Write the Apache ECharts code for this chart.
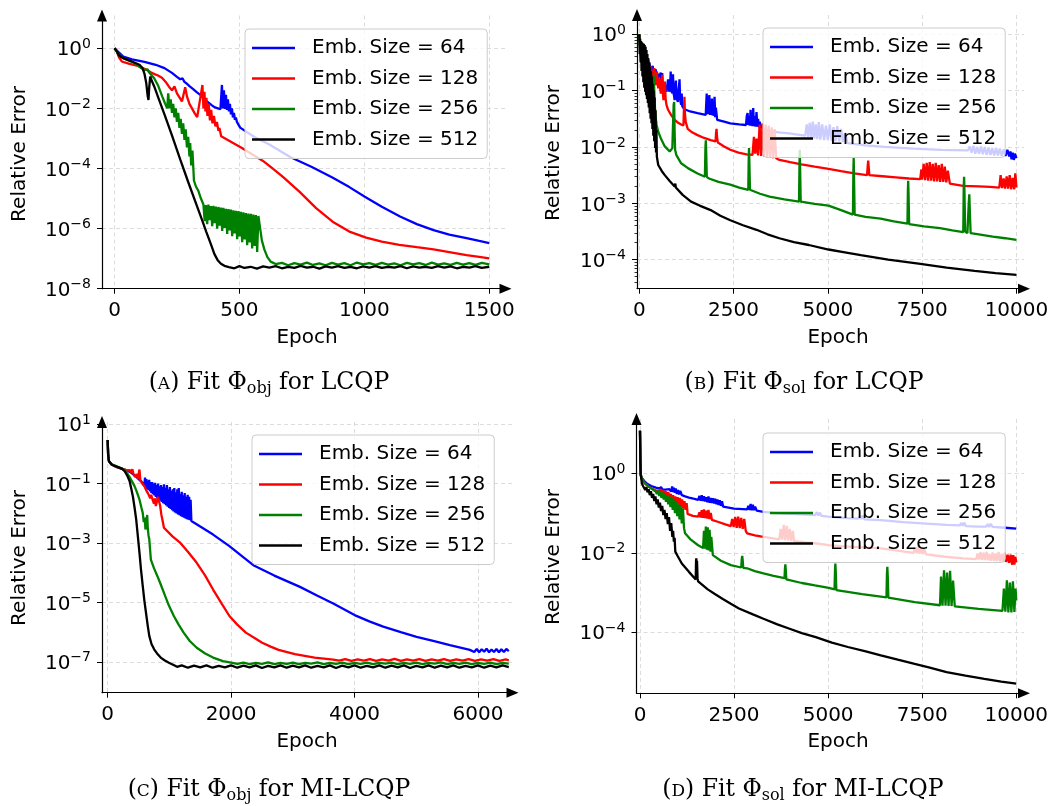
<!DOCTYPE html>
<html><head><meta charset="utf-8">
<script src="https://cdn.jsdelivr.net/npm/echarts@6/dist/echarts.min.js"></script>
<style>html,body{margin:0;padding:0;background:#fff}#c{width:1062px;height:806px}</style>
</head><body><div id="c"></div>
<script>
// ---------------- DATA (epoch, log10 of relative error) ----------------
const NAMES = ['Emb. Size = 64', 'Emb. Size = 128', 'Emb. Size = 256', 'Emb. Size = 512'];
const COLORS = ['#0000ff', '#ff0000', '#008000', '#000000'];

const TICKS_X_A = [0, 500, 1000, 1500];
const TICKS_X_B = [0, 2500, 5000, 7500, 10000];
const TICKS_X_C = [0, 2000, 4000, 6000];
const TICKS_X_D = [0, 2500, 5000, 7500, 10000];
const TICKS_Y_A = [1e-8, 1e-6, 1e-4, 1e-2, 1];
const TICKS_Y_B = [1e-4, 1e-3, 1e-2, 1e-1, 1];
const TICKS_Y_C = [1e-7, 1e-5, 1e-3, 1e-1, 10];
const TICKS_Y_D = [1e-4, 1e-2, 1];
const MINOR_Y_B = [4e-5,5e-5,6e-5,7e-5,8e-5,9e-5,2e-4,3e-4,4e-4,5e-4,6e-4,7e-4,8e-4,9e-4,2e-3,3e-3,4e-3,5e-3,6e-3,7e-3,8e-3,9e-3,2e-2,3e-2,4e-2,5e-2,6e-2,7e-2,8e-2,9e-2,0.2,0.3,0.4,0.5,0.6,0.7,0.8,0.9,2];

// Panel A : Fit Phi_obj for LCQP
const A64 = [[0,0],[8,-0.03],[18,-0.14],[35,-0.28],[70,-0.37],[120,-0.45],[165,-0.55],[200,-0.66],[230,-0.82],[250,-0.95],[263,-1.03],[272,-1.0],[280,-1.12],[290,-1.18],[300,-1.26],[308,-1.22],[315,-1.36],[330,-1.47],[345,-1.56],[360,-1.7],[375,-1.8],[390,-1.9],[402,-1.97],[414,-2.0],[424,-2.03],[430,-1.22],[434,-2.0],[438,-1.4],[442,-2.02],[446,-1.55],[450,-2.05],[454,-1.7],[458,-2.1],[462,-1.85],[466,-2.2],[470,-2.0],[474,-2.3],[478,-2.15],[482,-2.38],[486,-2.3],[490,-2.45],[496,-2.5],[503,-2.64],[560,-2.95],[620,-3.2],[703,-3.62],[790,-3.95],[872,-4.3],[940,-4.62],[1002,-4.94],[1070,-5.27],[1143,-5.6],[1210,-5.85],[1277,-6.05],[1340,-6.2],[1409,-6.32],[1460,-6.41],[1500,-6.48]];
const A128 = [[0,0],[8,-0.08],[18,-0.3],[29,-0.44],[60,-0.52],[94,-0.59],[120,-0.68],[133,-0.74],[145,-0.8],[152,-0.74],[160,-0.86],[166,-0.8],[172,-0.9],[180,-0.84],[190,-0.98],[205,-1.12],[218,-1.28],[230,-1.4],[240,-1.27],[250,-1.5],[262,-1.66],[270,-1.77],[283,-1.3],[290,-1.6],[300,-1.85],[310,-2.0],[320,-2.15],[331,-2.29],[352,-1.22],[356,-2.0],[360,-1.45],[364,-2.1],[368,-1.65],[372,-2.25],[377,-1.85],[382,-2.4],[387,-2.05],[392,-2.5],[398,-2.25],[404,-2.6],[410,-2.45],[416,-2.75],[420,-2.65],[427,-2.93],[510,-3.32],[593,-3.74],[630,-3.98],[673,-4.27],[740,-4.77],[807,-5.32],[873,-5.77],[940,-6.1],[1007,-6.3],[1070,-6.43],[1140,-6.54],[1210,-6.62],[1277,-6.69],[1340,-6.78],[1409,-6.88],[1460,-6.94],[1500,-6.99]];
const A256 = [[0,0],[8,-0.05],[18,-0.22],[35,-0.33],[81,-0.5],[107,-0.66],[120,-0.72],[126,-0.77],[132,-0.7],[138,-0.8],[159,-1.0],[175,-1.25],[191,-1.6],[203,-1.85],[211,-2.0],[215,-1.5],[220,-2.0],[225,-1.7],[230,-2.15],[235,-1.85],[240,-2.3],[245,-2.0],[250,-2.45],[255,-2.15],[260,-2.65],[265,-2.35],[270,-2.85],[275,-2.5],[280,-3.05],[285,-2.7],[290,-3.3],[295,-2.95],[300,-3.6],[303,-3.15],[307,-3.9],[312,-3.4],[318,-4.4],[326,-4.6],[336,-4.75],[346,-5.0],[356,-5.2],[361,-5.75],[366,-5.22],[371,-5.85],[376,-5.2],[381,-5.72],[386,-5.25],[391,-5.92],[396,-5.24],[401,-5.82],[406,-5.27],[411,-6.0],[416,-5.28],[421,-5.9],[426,-5.3],[431,-6.08],[436,-5.31],[441,-5.98],[446,-5.34],[451,-6.18],[456,-5.35],[461,-6.06],[466,-5.37],[471,-6.25],[476,-5.39],[481,-6.16],[486,-5.41],[491,-6.35],[496,-5.42],[501,-6.26],[506,-5.44],[511,-6.45],[516,-5.46],[521,-6.36],[526,-5.48],[531,-6.55],[536,-5.5],[541,-6.46],[546,-5.51],[551,-6.66],[556,-5.53],[561,-6.58],[566,-5.55],[571,-6.78],[576,-5.58],[583,-6.0],[590,-6.4],[600,-6.7],[612,-6.95],[625,-7.1],[645,-7.18],[670,-7.14],[695,-7.22],[720,-7.15],[745,-7.2],[770,-7.13],[795,-7.21],[820,-7.16],[845,-7.22],[870,-7.14],[895,-7.2],[920,-7.15],[945,-7.22],[970,-7.13],[995,-7.19],[1020,-7.15],[1045,-7.21],[1070,-7.14],[1095,-7.2],[1120,-7.16],[1145,-7.22],[1170,-7.14],[1195,-7.19],[1220,-7.15],[1245,-7.21],[1270,-7.13],[1295,-7.2],[1320,-7.16],[1345,-7.21],[1370,-7.14],[1395,-7.2],[1420,-7.15],[1445,-7.21],[1470,-7.14],[1500,-7.19]];
const A512 = [[0,0],[8,-0.08],[18,-0.24],[35,-0.33],[70,-0.44],[100,-0.55],[112,-0.66],[120,-0.85],[127,-1.15],[133,-1.6],[136,-1.72],[139,-1.3],[143,-0.94],[150,-1.1],[159,-1.27],[180,-1.75],[200,-2.2],[230,-2.9],[263,-3.7],[295,-4.45],[328,-5.2],[350,-5.7],[367,-6.1],[385,-6.5],[400,-6.85],[413,-7.05],[426,-7.17],[440,-7.24],[458,-7.28],[480,-7.32],[500,-7.25],[520,-7.31],[545,-7.27],[570,-7.33],[595,-7.26],[620,-7.3],[645,-7.25],[670,-7.32],[695,-7.27],[720,-7.31],[745,-7.24],[770,-7.3],[795,-7.27],[820,-7.33],[845,-7.26],[870,-7.3],[895,-7.25],[920,-7.31],[945,-7.27],[970,-7.32],[995,-7.26],[1020,-7.3],[1045,-7.25],[1070,-7.31],[1095,-7.27],[1120,-7.3],[1145,-7.25],[1170,-7.32],[1195,-7.26],[1220,-7.3],[1245,-7.27],[1270,-7.31],[1295,-7.25],[1320,-7.3],[1345,-7.26],[1370,-7.32],[1395,-7.27],[1420,-7.3],[1445,-7.25],[1470,-7.31],[1500,-7.27]];

// Panel B : Fit Phi_sol for LCQP
const B64 = [[0,0],[30,-0.2],[52,-0.27],[80,-0.35],[113,-0.4],[135,-0.5],[156,-0.54],[178,-0.45],[200,-0.52],[222,-0.6],[243,-0.63],[265,-0.5],[286,-0.58],[308,-0.64],[330,-0.66],[356,-0.56],[378,-0.68],[399,-0.72],[430,-0.62],[460,-0.62],[480,-0.75],[503,-0.81],[525,-0.7],[547,-0.75],[570,-0.68],[590,-0.86],[608,-0.69],[620,-0.88],[634,-0.93],[655,-0.85],[677,-0.9],[700,-0.98],[720,-1.02],[745,-0.9],[765,-0.8],[781,-0.78],[795,-1.02],[807,-1.05],[820,-0.9],[833,-0.66],[848,-0.95],[868,-1.05],[880,-0.85],[894,-0.71],[910,-1.05],[925,-1.1],[938,-1.17],[955,-0.95],[970,-0.82],[985,-1.05],[1000,-1.15],[1024,-1.2],[1040,-1.0],[1055,-0.9],[1068,-0.8],[1080,-1.1],[1095,-1.2],[1111,-1.25],[1125,-1.05],[1140,-1.28],[1155,-1.31],[1198,-1.33],[1350,-1.37],[1545,-1.4],[1762,-1.43],[1788,-1.05],[1805,-1.42],[1823,-1.1],[1840,-1.42],[1858,-1.08],[1875,-1.43],[1892,-1.2],[1910,-1.43],[1927,-1.14],[1945,-1.44],[1962,-1.2],[1980,-1.45],[1996,-1.11],[2013,-1.47],[2031,-1.3],[2066,-1.52],[2250,-1.55],[2413,-1.58],[2650,-1.6],[2830,-1.61],[2850,-1.45],[2873,-1.4],[2890,-1.61],[2908,-1.45],[2930,-1.62],[2951,-1.34],[2970,-1.62],[2986,-1.5],[3003,-1.63],[3021,-1.31],[3040,-1.63],[3064,-1.45],[3085,-1.64],[3108,-1.38],[3130,-1.64],[3151,-1.5],[3170,-1.65],[3194,-1.55],[3215,-1.66],[3238,-1.6],[3260,-1.67],[3455,-1.72],[3700,-1.74],[3976,-1.76],[4200,-1.78],[4400,-1.8],[4440,-1.6],[4480,-1.82],[4520,-1.57],[4560,-1.83],[4600,-1.55],[4640,-1.85],[4680,-1.6],[4720,-1.86],[4760,-1.56],[4800,-1.87],[4850,-1.6],[4900,-1.88],[4950,-1.62],[5000,-1.88],[5050,-1.6],[5100,-1.89],[5150,-1.65],[5200,-1.9],[5250,-1.63],[5300,-1.9],[5350,-1.68],[5400,-1.91],[5450,-1.75],[5524,-1.93],[6000,-1.97],[6500,-2.0],[7273,-2.03],[8000,-2.05],[8715,-2.06],[8760,-1.99],[8810,-2.1],[8860,-1.98],[8910,-2.12],[8960,-2.0],[9010,-2.12],[9060,-1.99],[9110,-2.13],[9160,-2.0],[9210,-2.14],[9260,-2.01],[9310,-2.14],[9360,-2.02],[9410,-2.15],[9460,-2.02],[9510,-2.15],[9560,-2.03],[9610,-2.16],[9660,-2.04],[9710,-2.16],[9760,-2.05],[9808,-2.17],[9840,-2.08],[9870,-2.22],[9900,-2.1],[9930,-2.23],[9960,-2.12],[10000,-2.2]];
const B128 = [[0,0],[15,-0.12],[30,-0.31],[50,-0.45],[75,-0.5],[100,-0.55],[156,-0.49],[178,-0.58],[200,-0.63],[222,-0.55],[243,-0.46],[265,-0.6],[286,-0.72],[300,-0.62],[312,-0.57],[335,-0.75],[356,-0.81],[378,-0.68],[399,-0.6],[420,-0.82],[434,-0.9],[452,-0.75],[469,-0.66],[486,-0.88],[503,-0.96],[520,-0.85],[538,-0.78],[556,-0.98],[573,-1.05],[590,-0.9],[608,-0.72],[625,-1.05],[642,-1.17],[660,-1.0],[677,-0.84],[700,-1.15],[720,-1.25],[764,-1.34],[850,-1.44],[938,-1.52],[1030,-1.57],[1111,-1.6],[1172,-1.62],[1185,-1.3],[1198,-1.11],[1210,-1.4],[1233,-1.56],[1285,-1.68],[1400,-1.74],[1545,-1.79],[1720,-1.84],[1892,-1.88],[2023,-1.9],[2036,-1.75],[2049,-1.68],[2062,-1.82],[2083,-1.92],[2250,-1.99],[2413,-2.05],[2630,-2.1],[2847,-2.13],[3003,-2.14],[3040,-1.82],[3075,-2.12],[3110,-1.85],[3150,-2.15],[3190,-1.6],[3230,-2.16],[3270,-1.58],[3310,-2.17],[3350,-1.6],[3390,-2.18],[3430,-1.62],[3470,-2.18],[3510,-1.65],[3550,-2.2],[3590,-1.68],[3630,-2.2],[3715,-2.23],[4000,-2.27],[4300,-2.31],[4650,-2.35],[5017,-2.39],[5350,-2.43],[5700,-2.47],[6040,-2.5],[6058,-2.32],[6070,-2.24],[6082,-2.35],[6100,-2.5],[6450,-2.52],[6800,-2.54],[7150,-2.56],[7448,-2.57],[7480,-2.4],[7500,-2.58],[7540,-2.3],[7580,-2.59],[7620,-2.28],[7660,-2.6],[7700,-2.27],[7740,-2.6],[7780,-2.3],[7820,-2.61],[7860,-2.28],[7900,-2.61],[7940,-2.32],[7980,-2.62],[8020,-2.3],[8060,-2.62],[8100,-2.35],[8140,-2.63],[8180,-2.42],[8235,-2.65],[8584,-2.69],[9000,-2.7],[9300,-2.71],[9545,-2.72],[9580,-2.5],[9620,-2.73],[9660,-2.56],[9700,-2.74],[9740,-2.52],[9780,-2.74],[9820,-2.5],[9860,-2.75],[9900,-2.55],[9940,-2.75],[9970,-2.47],[10000,-2.72]];
const B256 = [[0,0],[15,-0.2],[40,-0.38],[69,-0.43],[100,-0.52],[139,-0.6],[170,-0.55],[200,-0.46],[222,-0.5],[240,-0.64],[260,-0.72],[290,-0.82],[312,-0.9],[347,-1.08],[365,-0.9],[382,-0.72],[395,-0.95],[417,-1.31],[440,-1.5],[460,-1.61],[503,-1.73],[580,-1.86],[677,-1.99],[807,-2.08],[877,-2.02],[895,-1.6],[912,-1.25],[925,-1.2],[938,-1.75],[950,-2.05],[981,-2.14],[1111,-2.29],[1300,-2.38],[1545,-2.47],[1740,-2.53],[1755,-2.0],[1765,-1.88],[1775,-2.1],[1790,-2.53],[1849,-2.56],[2100,-2.62],[2413,-2.67],[2650,-2.72],[2890,-2.76],[2902,-2.2],[2910,-2.02],[2920,-2.3],[2935,-2.76],[3200,-2.83],[3455,-2.88],[3850,-2.93],[4235,-2.97],[4248,-2.3],[4256,-2.05],[4265,-2.4],[4280,-2.97],[4650,-3.01],[5017,-3.04],[5350,-3.12],[5665,-3.2],[5677,-2.4],[5685,-2.19],[5693,-2.5],[5710,-3.2],[6000,-3.24],[6399,-3.27],[6750,-3.32],[7110,-3.36],[7122,-2.75],[7130,-2.6],[7138,-2.8],[7155,-3.37],[7550,-3.41],[7972,-3.44],[8300,-3.48],[8590,-3.51],[8602,-2.7],[8612,-2.53],[8622,-2.8],[8640,-3.5],[8700,-3.53],[8735,-3.0],[8750,-2.84],[8762,-3.1],[8785,-3.53],[9000,-3.55],[9371,-3.59],[9700,-3.62],[10000,-3.65]];
const B512 = [[0,0],[12,-0.35],[24,-0.08],[36,-0.5],[48,-0.12],[60,-0.65],[72,-0.14],[84,-0.75],[96,-0.16],[108,-0.85],[120,-0.17],[132,-0.95],[144,-0.19],[156,-1.02],[168,-0.22],[180,-1.08],[192,-0.28],[204,-1.15],[216,-0.35],[228,-1.22],[240,-0.42],[252,-1.3],[264,-0.5],[276,-1.4],[288,-0.58],[300,-1.5],[312,-0.66],[324,-1.58],[336,-0.75],[348,-1.68],[360,-0.88],[372,-1.8],[384,-1.0],[396,-1.9],[408,-1.12],[420,-2.02],[432,-1.35],[444,-2.1],[456,-1.7],[466,-2.17],[503,-2.32],[600,-2.43],[677,-2.5],[800,-2.6],[938,-2.7],[955,-2.65],[970,-2.72],[1150,-2.85],[1372,-2.97],[1600,-3.04],[1892,-3.12],[1905,-3.09],[1920,-3.13],[2150,-3.22],[2413,-3.3],[2750,-3.39],[3108,-3.47],[3125,-3.44],[3140,-3.48],[3400,-3.55],[3715,-3.62],[4100,-3.69],[4497,-3.74],[4515,-3.72],[4530,-3.75],[5017,-3.82],[5450,-3.87],[5874,-3.92],[5890,-3.9],[5905,-3.93],[6600,-4.0],[7404,-4.07],[7420,-4.05],[7435,-4.08],[8150,-4.14],[8890,-4.2],[8905,-4.18],[8920,-4.21],[9450,-4.24],[10000,-4.27]];

// Panel C : Fit Phi_obj for MI-LCQP
const C64 = [[0,0.46],[8,-0.05],[21,-0.25],[64,-0.36],[120,-0.42],[170,-0.47],[220,-0.5],[276,-0.53],[330,-0.58],[382,-0.64],[420,-0.7],[460,-0.77],[500,-0.85],[540,-0.92],[575,-1.0],[594,-1.09],[605,-0.8],[616,-1.14],[627,-0.85],[638,-1.18],[649,-0.9],[660,-1.22],[672,-0.88],[684,-1.27],[696,-0.95],[708,-1.32],[720,-0.95],[732,-1.36],[744,-1.0],[756,-1.4],[768,-0.98],[780,-1.45],[792,-1.05],[804,-1.5],[816,-1.0],[828,-1.54],[840,-1.1],[852,-1.58],[864,-1.05],[876,-1.62],[888,-1.12],[900,-1.66],[912,-1.03],[924,-1.7],[936,-1.15],[948,-1.74],[960,-1.05],[972,-1.78],[984,-1.2],[996,-1.82],[1008,-1.12],[1020,-1.86],[1032,-1.25],[1044,-1.9],[1056,-1.2],[1068,-1.94],[1080,-1.15],[1092,-1.98],[1104,-1.3],[1116,-2.01],[1128,-1.2],[1140,-2.04],[1152,-1.15],[1164,-2.07],[1176,-1.35],[1188,-2.1],[1200,-1.28],[1212,-2.13],[1224,-1.4],[1236,-2.15],[1248,-1.32],[1260,-2.18],[1272,-1.45],[1284,-2.2],[1296,-1.38],[1308,-2.22],[1320,-1.45],[1332,-2.24],[1344,-1.55],[1356,-2.26],[1363,-2.27],[1500,-2.45],[1708,-2.72],[1973,-3.11],[2150,-3.4],[2360,-3.75],[2700,-4.1],[3116,-4.48],[3400,-4.78],[3655,-5.04],[4001,-5.43],[4250,-5.65],[4465,-5.82],[4750,-6.0],[5005,-6.16],[5275,-6.3],[5545,-6.44],[5869,-6.6],[5900,-6.58],[5940,-6.67],[5980,-6.57],[6020,-6.68],[6060,-6.58],[6100,-6.66],[6140,-6.56],[6180,-6.68],[6220,-6.59],[6260,-6.67],[6300,-6.57],[6340,-6.68],[6380,-6.58],[6420,-6.67],[6460,-6.57],[6500,-6.64]];
const C128 = [[0,0.46],[8,-0.05],[21,-0.25],[64,-0.36],[120,-0.42],[170,-0.47],[230,-0.5],[276,-0.53],[310,-0.56],[335,-0.6],[360,-0.55],[382,-0.63],[400,-0.52],[420,-0.7],[445,-0.78],[470,-0.68],[490,-0.85],[500,-0.7],[515,-0.53],[530,-0.9],[560,-1.0],[594,-1.09],[630,-1.25],[665,-1.38],[690,-1.5],[705,-1.38],[727,-1.54],[750,-1.68],[765,-1.5],[780,-1.76],[800,-1.6],[815,-1.45],[833,-1.4],[850,-1.75],[870,-2.05],[886,-2.21],[912,-2.49],[1050,-2.78],[1178,-3.0],[1300,-3.3],[1443,-3.67],[1580,-4.1],[1708,-4.57],[1850,-5.05],[1973,-5.46],[2100,-5.75],[2239,-6.02],[2380,-6.2],[2504,-6.36],[2650,-6.5],[2769,-6.6],[3034,-6.74],[3353,-6.86],[3655,-6.93],[3750,-6.96],[3850,-6.91],[3950,-6.97],[4050,-6.92],[4150,-6.96],[4250,-6.91],[4350,-6.97],[4450,-6.92],[4550,-6.96],[4650,-6.9],[4750,-6.97],[4850,-6.92],[4950,-6.96],[5050,-6.91],[5150,-6.97],[5250,-6.92],[5350,-6.96],[5450,-6.91],[5550,-6.97],[5650,-6.92],[5750,-6.96],[5850,-6.91],[5950,-6.97],[6050,-6.92],[6150,-6.96],[6250,-6.91],[6350,-6.97],[6450,-6.92],[6500,-6.95]];
const C256 = [[0,0.46],[8,-0.05],[21,-0.25],[64,-0.36],[120,-0.4],[170,-0.45],[200,-0.42],[230,-0.5],[276,-0.55],[300,-0.6],[329,-0.7],[355,-0.78],[380,-0.88],[408,-0.98],[435,-1.09],[475,-1.3],[515,-1.54],[545,-1.8],[568,-1.99],[585,-2.3],[600,-2.15],[612,-2.55],[621,-2.6],[632,-2.2],[640,-2.06],[650,-2.5],[662,-2.75],[674,-2.88],[690,-3.3],[700,-3.56],[750,-3.85],[806,-4.12],[860,-4.4],[912,-4.68],[990,-5.1],[1072,-5.46],[1150,-5.75],[1231,-6.02],[1330,-6.3],[1443,-6.53],[1580,-6.72],[1708,-6.86],[1867,-6.98],[2000,-7.03],[2100,-7.07],[2200,-7.03],[2300,-7.08],[2400,-7.04],[2500,-7.07],[2600,-7.02],[2700,-7.08],[2800,-7.04],[2900,-7.07],[3000,-7.03],[3100,-7.08],[3200,-7.04],[3300,-7.06],[3400,-7.02],[3500,-7.08],[3600,-7.04],[3700,-7.07],[3800,-7.03],[3900,-7.08],[4000,-7.04],[4100,-7.07],[4200,-7.03],[4300,-7.08],[4400,-7.04],[4500,-7.06],[4600,-7.03],[4700,-7.08],[4800,-7.04],[4900,-7.07],[5000,-7.03],[5100,-7.08],[5200,-7.04],[5300,-7.06],[5400,-7.02],[5500,-7.08],[5600,-7.04],[5700,-7.07],[5800,-7.03],[5900,-7.08],[6000,-7.04],[6100,-7.07],[6200,-7.03],[6300,-7.08],[6400,-7.04],[6500,-7.06]];
const C512 = [[0,0.46],[8,-0.05],[21,-0.25],[64,-0.36],[120,-0.42],[170,-0.45],[200,-0.4],[230,-0.5],[276,-0.59],[320,-0.75],[355,-0.92],[380,-1.15],[408,-1.43],[435,-1.8],[462,-2.21],[490,-2.8],[515,-3.33],[540,-3.9],[568,-4.45],[595,-4.95],[621,-5.35],[650,-5.8],[674,-6.13],[710,-6.4],[753,-6.58],[800,-6.72],[859,-6.86],[920,-6.95],[992,-7.03],[1060,-7.1],[1125,-7.17],[1200,-7.12],[1300,-7.2],[1400,-7.13],[1500,-7.19],[1600,-7.12],[1700,-7.2],[1800,-7.14],[1900,-7.19],[2000,-7.12],[2100,-7.2],[2200,-7.13],[2300,-7.19],[2400,-7.12],[2500,-7.21],[2600,-7.14],[2700,-7.19],[2800,-7.12],[2900,-7.2],[3000,-7.13],[3100,-7.19],[3200,-7.12],[3300,-7.2],[3400,-7.14],[3500,-7.19],[3600,-7.12],[3700,-7.21],[3800,-7.13],[3900,-7.19],[4000,-7.12],[4100,-7.2],[4200,-7.14],[4300,-7.19],[4400,-7.12],[4500,-7.2],[4600,-7.13],[4700,-7.19],[4800,-7.12],[4900,-7.21],[5000,-7.14],[5100,-7.19],[5200,-7.12],[5300,-7.2],[5400,-7.13],[5500,-7.19],[5600,-7.12],[5700,-7.2],[5800,-7.14],[5900,-7.19],[6000,-7.12],[6100,-7.2],[6200,-7.13],[6300,-7.19],[6400,-7.12],[6500,-7.18]];

// Panel D : Fit Phi_sol for MI-LCQP
const D64 = [[0,1.07],[10,0.3],[20,-0.04],[50,-0.12],[80,-0.16],[120,-0.2],[156,-0.25],[200,-0.27],[250,-0.3],[300,-0.32],[350,-0.34],[420,-0.36],[503,-0.38],[560,-0.35],[600,-0.41],[640,-0.37],[677,-0.41],[730,-0.44],[780,-0.4],[830,-0.46],[855,-0.33],[880,-0.47],[900,-0.36],[925,-0.49],[950,-0.38],[980,-0.52],[1010,-0.42],[1040,-0.53],[1070,-0.44],[1111,-0.55],[1200,-0.58],[1300,-0.61],[1420,-0.64],[1545,-0.67],[1580,-0.57],[1610,-0.69],[1640,-0.55],[1670,-0.7],[1700,-0.58],[1730,-0.71],[1760,-0.6],[1790,-0.73],[1820,-0.58],[1850,-0.74],[1880,-0.62],[1910,-0.75],[1940,-0.63],[1970,-0.76],[2000,-0.64],[2030,-0.78],[2060,-0.66],[2090,-0.8],[2120,-0.68],[2150,-0.82],[2180,-0.7],[2210,-0.84],[2240,-0.86],[2500,-0.89],[2847,-0.91],[2880,-0.82],[2910,-0.92],[2940,-0.77],[2970,-0.93],[3000,-0.79],[3030,-0.93],[3060,-0.84],[3100,-0.94],[3281,-0.97],[3600,-1.0],[4000,-1.02],[4300,-1.03],[4650,-1.05],[4700,-0.98],[4740,-1.06],[4780,-0.99],[4820,-1.07],[5000,-1.09],[5500,-1.13],[5800,-1.14],[5840,-1.07],[5880,-1.15],[5920,-1.06],[5960,-1.16],[6399,-1.18],[7000,-1.23],[7500,-1.26],[8147,-1.3],[8500,-1.31],[8540,-1.25],[8580,-1.32],[8620,-1.24],[8660,-1.33],[9000,-1.34],[9200,-1.34],[9240,-1.28],[9280,-1.35],[9320,-1.27],[9371,-1.35],[9700,-1.37],[10000,-1.39]];
const D128 = [[0,1.07],[10,0.3],[20,-0.04],[50,-0.14],[80,-0.18],[120,-0.24],[156,-0.29],[220,-0.33],[300,-0.38],[400,-0.42],[503,-0.46],[540,-0.4],[575,-0.5],[610,-0.42],[645,-0.54],[680,-0.45],[715,-0.58],[750,-0.47],[785,-0.62],[820,-0.52],[851,-0.67],[880,-0.55],[910,-0.72],[940,-0.58],[970,-0.76],[1000,-0.6],[1030,-0.8],[1060,-0.62],[1090,-0.84],[1120,-0.66],[1150,-0.88],[1180,-0.7],[1210,-0.92],[1240,-0.75],[1265,-1.02],[1285,-1.05],[1400,-1.07],[1545,-1.09],[1580,-0.98],[1610,-1.11],[1640,-0.93],[1670,-1.12],[1700,-0.91],[1730,-1.13],[1760,-0.94],[1790,-1.14],[1820,-0.92],[1850,-1.15],[1880,-1.0],[1910,-1.17],[2066,-1.22],[2250,-1.28],[2413,-1.33],[2450,-1.15],[2490,-1.35],[2530,-1.1],[2570,-1.37],[2610,-1.09],[2650,-1.38],[2690,-1.12],[2730,-1.4],[2770,-1.15],[2810,-1.45],[2847,-1.51],[3050,-1.56],[3281,-1.6],[3500,-1.63],[3700,-1.66],[3740,-1.4],[3780,-1.67],[3820,-1.3],[3860,-1.68],[3900,-1.32],[3940,-1.69],[3980,-1.4],[4020,-1.7],[4060,-1.45],[4100,-1.71],[4400,-1.74],[4650,-1.76],[5017,-1.81],[5400,-1.84],[5800,-1.86],[6399,-1.89],[6800,-1.94],[7273,-2.0],[7310,-1.86],[7350,-2.01],[7390,-1.85],[7430,-2.02],[7470,-1.88],[7510,-2.03],[7550,-1.9],[7600,-2.04],[8100,-2.1],[8584,-2.14],[8934,-2.16],[8970,-2.02],[9010,-2.17],[9050,-1.98],[9090,-2.18],[9130,-2.0],[9170,-2.18],[9210,-1.97],[9250,-2.19],[9290,-2.03],[9330,-2.2],[9370,-1.99],[9410,-2.2],[9450,-2.02],[9490,-2.21],[9530,-1.98],[9570,-2.22],[9610,-2.03],[9650,-2.22],[9690,-2.0],[9730,-2.23],[9770,-2.05],[9810,-2.25],[9850,-2.05],[9890,-2.3],[9920,-2.06],[9950,-2.3],[9975,-2.1],[10000,-2.24]];
const D256 = [[0,1.07],[10,0.3],[20,-0.04],[50,-0.14],[80,-0.18],[120,-0.24],[156,-0.29],[220,-0.33],[300,-0.38],[417,-0.46],[450,-0.52],[480,-0.42],[510,-0.57],[540,-0.45],[570,-0.62],[600,-0.48],[630,-0.66],[660,-0.52],[690,-0.72],[720,-0.55],[750,-0.78],[780,-0.58],[810,-0.85],[840,-0.62],[870,-0.92],[900,-0.68],[930,-1.0],[960,-0.72],[990,-1.08],[1020,-0.78],[1050,-1.16],[1080,-0.8],[1110,-1.26],[1140,-0.88],[1170,-1.38],[1198,-1.51],[1350,-1.67],[1545,-1.81],[1676,-1.88],[1700,-1.45],[1725,-1.9],[1750,-1.34],[1775,-1.92],[1800,-1.36],[1825,-1.94],[1850,-1.42],[1875,-1.97],[1895,-1.6],[1936,-2.06],[2150,-2.2],[2413,-2.31],[2690,-2.37],[2705,-2.15],[2717,-2.08],[2730,-2.2],[2745,-2.38],[2847,-2.39],[3050,-2.46],[3281,-2.52],[3550,-2.58],[3840,-2.64],[3852,-2.4],[3863,-2.29],[3875,-2.45],[3889,-2.67],[4300,-2.76],[4650,-2.82],[5017,-2.88],[5170,-2.92],[5182,-2.45],[5192,-2.27],[5204,-2.5],[5218,-2.94],[5900,-3.04],[6550,-3.12],[6562,-2.55],[6573,-2.35],[6585,-2.6],[6600,-3.13],[7300,-3.24],[7972,-3.32],[8000,-2.6],[8040,-3.33],[8080,-2.44],[8120,-3.33],[8160,-2.5],[8200,-3.34],[8240,-2.45],[8280,-3.34],[8320,-2.7],[8365,-3.35],[8409,-3.36],[9000,-3.41],[9633,-3.46],[9670,-2.9],[9710,-3.48],[9750,-2.69],[9790,-3.5],[9830,-2.75],[9870,-3.5],[9910,-2.72],[9950,-3.49],[9980,-2.9],[10000,-3.2]];
const D512 = [[0,1.07],[10,0.3],[20,-0.04],[50,-0.25],[80,-0.32],[110,-0.3],[140,-0.42],[170,-0.35],[200,-0.48],[230,-0.4],[260,-0.55],[290,-0.45],[320,-0.62],[350,-0.52],[380,-0.7],[410,-0.58],[440,-0.78],[470,-0.66],[500,-0.86],[530,-0.74],[560,-0.95],[590,-0.82],[620,-1.05],[650,-0.92],[680,-1.15],[710,-1.0],[740,-1.28],[770,-1.1],[800,-1.45],[830,-1.25],[860,-1.6],[880,-1.45],[900,-1.72],[920,-1.62],[938,-1.97],[1000,-2.08],[1111,-2.27],[1300,-2.48],[1480,-2.67],[1490,-2.2],[1497,-2.14],[1505,-2.5],[1515,-2.2],[1530,-2.65],[1545,-2.72],[1589,-2.77],[1800,-2.92],[1979,-3.03],[2200,-3.16],[2413,-3.28],[2630,-3.4],[2642,-3.36],[2655,-3.41],[3000,-3.55],[3281,-3.66],[3650,-3.8],[3976,-3.91],[3990,-3.88],[4005,-3.92],[4300,-4.02],[4670,-4.12],[5100,-4.26],[5524,-4.37],[5540,-4.34],[5555,-4.38],[6000,-4.48],[6399,-4.58],[6850,-4.69],[7273,-4.79],[7290,-4.76],[7305,-4.8],[7700,-4.89],[8147,-5.0],[8650,-5.09],[9152,-5.17],[9170,-5.14],[9185,-5.18],[9600,-5.24],[10000,-5.29]];

// ---------------- LAYOUT ----------------
const PANELS = [
  {grid:{left:102, top:15.5, width:403.5, height:273.2}, xmin:-50, xmax:1565, ymin:1e-8, ymax:12.3, xt:TICKS_X_A, yt:TICKS_Y_A, data:[A64,A128,A256,A512], legend:{left:245, top:29}},
  {grid:{left:637, top:15, width:387, height:273.7}, xmin:-60, xmax:10200, ymin:3.05e-5, ymax:2.2, xt:TICKS_X_B, yt:TICKS_Y_B, data:[B64,B128,B256,B512], legend:{left:763, top:28}},
  {grid:{left:102, top:422, width:410.5, height:270.7}, xmin:-92, xmax:6560, ymin:9.1e-9, ymax:11.7, xt:TICKS_X_C, yt:TICKS_Y_C, data:[C64,C128,C256,C512], legend:{left:252, top:435}},
  {grid:{left:636.5, top:419, width:387.5, height:274.3}, xmin:-93, xmax:10205, ymin:2.92e-6, ymax:23.2, xt:TICKS_X_D, yt:TICKS_Y_D, data:[D64,D128,D256,D512], legend:{left:763, top:433}}
];

const GRIDLINE = {show:true, lineStyle:{color:'#dcdcdc', width:1, type:[4,3]}};
const AXLINE = {show:true, onZero:false, lineStyle:{color:'#000', width:1.2}, symbol:['none','triangle'], symbolSize:[10,12]};

function logLabel(v){
  const e = Math.round(Math.log10(v));
  const s = e < 0 ? '\u2212' + (-e) : String(e);
  return '{b|10}{s|' + s + '}';
}
const RICH = {
  b:{fontSize:20, fontFamily:'DejaVu Sans', color:'#000'},
  s:{fontSize:14, fontFamily:'DejaVu Sans', color:'#000', padding:[0,0,12,0]}
};

const xAxes = [], yAxes = [], series = [], legends = [];
PANELS.forEach((p, i) => {
  xAxes.push({type:'value', gridIndex:i, min:p.xmin, max:p.xmax,
    axisLine:AXLINE,
    axisTick:{show:true, length:5, lineStyle:{color:'#000', width:1}, customValues:p.xt},
    axisLabel:{show:true, customValues:p.xt, formatter:v => String(v), fontSize:20, color:'#000', margin:12, fontFamily:'DejaVu Sans'},
    splitLine:GRIDLINE});
  yAxes.push({type:'log', logBase:10, gridIndex:i, position:'left', min:p.ymin, max:p.ymax,
    axisLine:AXLINE,
    axisTick:{show:true, length:5, lineStyle:{color:'#000', width:1}, customValues:p.yt},
    axisLabel:{show:true, customValues:p.yt, formatter:logLabel, rich:RICH, margin:11, padding:[4,0,0,0]},
    splitLine:GRIDLINE, minorTick:{show:false}});
  p.data.forEach((d, k) => {
    series.push({type:'line', name:NAMES[k], xAxisIndex:i, yAxisIndex:i,
      data:d.map(q => [q[0], Math.pow(10, q[1])]),
      showSymbol:false, symbol:'none', silent:true,
      lineStyle:{color:COLORS[k], width:2.3}, itemStyle:{color:COLORS[k]}});
  });
  legends.push({show:true, orient:'vertical', left:p.legend.left, top:p.legend.top, selectedMode:false,
    data:NAMES, icon:'rect', itemWidth:43, itemHeight:2.5, itemGap:8.5, padding:[8,9,8,7],
    backgroundColor:'rgba(255,255,255,0.8)', borderColor:'#cccccc', borderWidth:1, borderRadius:4,
    textStyle:{fontSize:20, lineHeight:22, color:'#000', fontFamily:'DejaVu Sans', padding:[0,0,0,12]}});
});
// minor ticks on panel B
yAxes.push({type:'log', logBase:10, gridIndex:1, position:'left', min:PANELS[1].ymin, max:PANELS[1].ymax,
  axisLine:{show:false, onZero:false}, axisLabel:{show:false}, splitLine:{show:false},
  axisTick:{show:true, length:2.5, lineStyle:{color:'#000', width:0.8}, customValues:MINOR_Y_B}});

function ylab(x, y){ return {type:'text', x:x, y:y, rotation:Math.PI/2, style:{text:'Relative Error', fontSize:20, fontFamily:'DejaVu Sans', fill:'#000', align:'center', verticalAlign:'middle'}}; }
function xlab(x, y){ return {type:'text', x:x, y:y, style:{text:'Epoch', fontSize:20, fontFamily:'DejaVu Sans', fill:'#000', align:'center', verticalAlign:'middle'}}; }
const CAPRICH = {
  n:{fontSize:23.5, fontFamily:'DejaVu Serif', fill:'#000'},
  sc:{fontSize:17, fontFamily:'DejaVu Serif', fill:'#000', padding:[3,0,0,0]},
  sub:{fontSize:16, fontFamily:'DejaVu Serif', fill:'#000', padding:[12,0,0,0]}
};
function cap(x, y, letter, sub, tail){
  return {type:'text', x:x, y:y, style:{text:'{n|(}{sc|' + letter + '}{n|) Fit Φ}{sub|' + sub + '}{n| for ' + tail + '}', rich:CAPRICH, align:'center', verticalAlign:'middle'}};
}

const option = {
  animation:false,
  backgroundColor:'#ffffff',
  textStyle:{fontFamily:'DejaVu Sans'},
  grid:PANELS.map(p => Object.assign({containLabel:false, outerBoundsMode:'none'}, p.grid)),
  xAxis:xAxes, yAxis:yAxes, legend:legends, series:series,
  graphic:[
    ylab(20,154), ylab(554,153), ylab(20,558), ylab(554,557),
    xlab(307,338), xlab(838,338), xlab(307,742), xlab(838,742),
    cap(269,383,'A','obj','LCQP'), cap(804,383,'B','sol','LCQP'),
    cap(269,790,'C','obj','MI-LCQP'), cap(803,790,'D','sol','MI-LCQP')
  ]
};
const chart = echarts.init(document.getElementById('c'), null, {renderer:'canvas'});
chart.setOption(option);
</script></body></html>
